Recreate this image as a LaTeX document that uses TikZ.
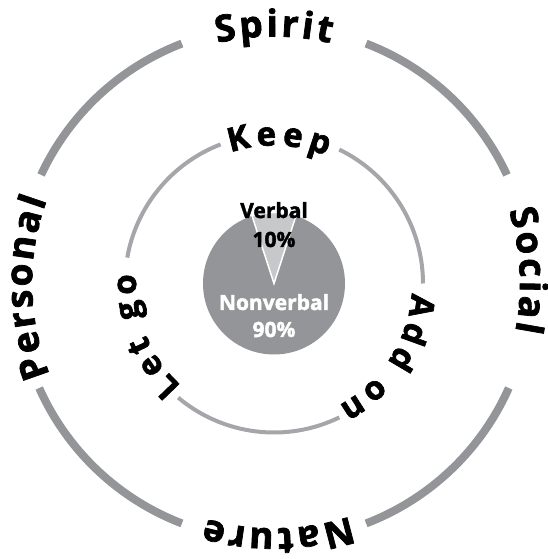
\documentclass[tikz,border=0pt]{standalone}
\usepackage{fontspec}
\setmainfont{Open Sans}[BoldFeatures={FakeBold=2}]

\definecolor{ringgray}{HTML}{939598}
\definecolor{innergray}{HTML}{A4A6A9}
\definecolor{piegray}{HTML}{939598}
\definecolor{wedgegray}{HTML}{C6C8CA}

\newcommand\outerstyle{\bfseries\fontsize{37pt}{37pt}\selectfont}
\newcommand\innerstyle{\bfseries\fontsize{33pt}{33pt}\selectfont}
\newcommand\wordgap{\kern8pt}

% letras sobre un arco: #1 nombre, #2 radio, #3 angulo central, #4 separacion, #5 fuente, #6 letras
\newcommand\ringword[6]{%
  \begingroup
  #5%
  \xdef\ringlen{-#4}%
  \foreach \c in {#6}{%
    \pgfmathwidth{"\c"}%
    \pgfmathparse{\ringlen+\pgfmathresult+#4}%
    \xdef\ringlen{\pgfmathresult}%
  }%
  \pgfmathparse{-\ringlen/2}\xdef\ringpos{\pgfmathresult}%
  \foreach \c [count=\n] in {#6}{%
    \pgfmathwidth{"\c"}\let\w\pgfmathresult
    \pgfmathsetmacro\ang{#3-(\ringpos+\w/2)/#2*57.29578}%
    \node[ringletter, font=#5, rotate=\ang-90] (#1-\n) at (\ang:#2pt) {\c};
    \pgfmathparse{\ringpos+\w+#4}\xdef\ringpos{\pgfmathresult}%
  }%
  \endgroup
}

\tikzset{
  outerarc/.style={draw=ringgray, line width=8pt},
  innerarc/.style={draw=innergray, line width=4pt},
  ringletter/.style={anchor=base, inner sep=0pt},
  pielabel/.style={font=\bfseries\fontsize{21pt}{21pt}\selectfont, anchor=base, inner sep=0pt}
}

\begin{document}
\begin{tikzpicture}
  \useasboundingbox (-274pt,-275.5pt) rectangle (274pt,283.5pt);

  % anillo exterior
  \foreach \a/\b in {25/69, 111/155, 204/249, 291/336}
    \draw[outerarc] (\a:257pt) arc (\a:\b:257pt);
  \ringword{spirit}{247}{90}{3}{\outerstyle}{S,p,i,r,i,t}
  \ringword{social}{246}{3}{3}{\outerstyle}{S,o,c,i,a,l}
  \ringword{nature}{245}{271}{3}{\outerstyle}{N,a,t,u,r,e}
  \ringword{personal}{242}{181}{2.5}{\outerstyle}{P,e,r,s,o,n,a,l}

  % anillo interior
  \foreach \a/\b in {0/64, 111/170, 230/296}
    \draw[innerarc] (\a:149pt) arc (\a:\b:149pt);
  \ringword{keep}{138}{88}{5.5}{\innerstyle}{K,e,e,p}
  \ringword{addon}{138}{-33}{5}{\innerstyle}{A,d,d,\wordgap,o,n}
  \ringword{letgo}{138}{202}{5}{\innerstyle}{L,e,t,\wordgap,g,o}

  % diagrama de sectores
  \fill[piegray] (0,0) circle (71pt);
  \filldraw[fill=wedgegray, draw=white, line width=1.5pt] (0,0) -- (108:71pt) arc (108:72:71pt) -- cycle;
  \node[pielabel] (verbal) at (0,65.5pt) {Verbal};
  \node[pielabel] (verbalpct) at (0,36.5pt) {10\%};
  \node[pielabel, text=white] (nonverbal) at (0,-26.5pt) {Nonverbal};
  \node[pielabel, text=white] (nonverbalpct) at (0,-53.5pt) {90\%};
\end{tikzpicture}
\end{document}
